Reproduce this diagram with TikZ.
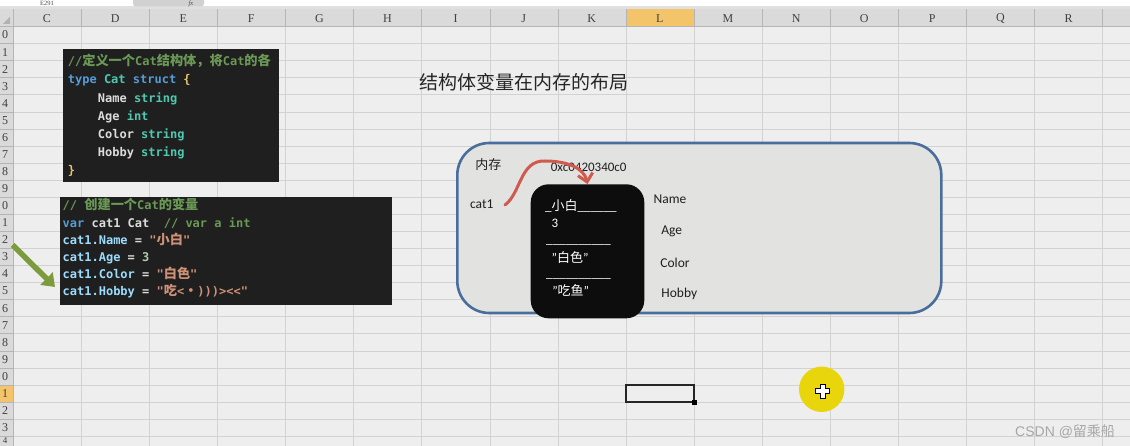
\documentclass[tikz,border=0pt]{standalone}
\usepackage{fontspec}
\setmainfont{Carlito}
\newfontfamily\cjk{Noto Sans CJK SC}
\newfontfamily\codefont{DejaVu Sans Mono}
\newfontfamily\hdrfont{Liberation Serif}
\newfontfamily\wmfont{Liberation Sans}
\usetikzlibrary{arrows.meta}
\definecolor{sheetbg}{HTML}{EEEEEE}
\definecolor{gridc}{HTML}{D2D2D2}
\definecolor{hdrbg}{HTML}{DADADA}
\definecolor{hdrline}{HTML}{B5B5B5}
\definecolor{hilite}{HTML}{F4C46A}
\definecolor{codebg}{HTML}{1F1F1F}
\definecolor{ckw}{HTML}{569CD6}
\definecolor{cty}{HTML}{4EC9B0}
\definecolor{ccm}{HTML}{6A9955}
\definecolor{cfg}{HTML}{DCDCDC}
\definecolor{cvar}{HTML}{9CDCFE}
\definecolor{cstr}{HTML}{CE9178}
\definecolor{cnum}{HTML}{B5CEA8}
\definecolor{cbr}{HTML}{E8C56A}
\definecolor{memfill}{HTML}{E2E2E0}
\definecolor{memline}{HTML}{4A6E9C}
\definecolor{redarrow}{HTML}{CF5B4F}
\definecolor{greenarrow}{HTML}{7C9B3C}
\definecolor{cursory}{HTML}{E9D50C}
\definecolor{wmgray}{HTML}{A6A6A6}
\newcommand\cKw[1]{\textcolor{ckw}{#1}}
\newcommand\cTy[1]{\textcolor{cty}{#1}}
\newcommand\cCm[1]{\textcolor{ccm}{#1}}
\newcommand\cFg[1]{\textcolor{cfg}{#1}}
\newcommand\cVa[1]{\textcolor{cvar}{#1}}
\newcommand\cSt[1]{\textcolor{cstr}{#1}}
\newcommand\cNu[1]{\textcolor{cnum}{#1}}
\newcommand\cBr[1]{\textcolor{cbr}{#1}}
\newcommand\cZh[1]{{\cjk\fontsize{13.2}{13}\selectfont #1}}
\newcommand\zhtxt[1]{{\cjk #1}}
\tikzset{
  codetxt/.style={anchor=base west, inner sep=0pt, font=\codefont\bfseries\fontsize{12}{12}\selectfont},
  codebox/.style={fill=codebg, anchor=north west, inner sep=0pt},
  hdrtxt/.style={inner sep=0pt, text=black!75, font=\hdrfont\fontsize{12}{12}\selectfont},
  memtxt/.style={inner sep=0pt, text=black!88, font=\fontsize{13.5}{14}\selectfont},
  objtxt/.style={inner sep=0pt, text=white, font=\fontsize{13}{14}\selectfont},
}
\begin{document}
\begin{tikzpicture}[x=1pt,y=-1pt]
\useasboundingbox (0,0) rectangle (1130,446);
% sheet
\fill[sheetbg] (0,0) rectangle (1130,446);
\fill[white] (0,0) rectangle (1130,6.5);
\fill[black!12] (0,6.5) rectangle (1130,9);
\fill[black!18, rounded corners=3pt] (133,-6) rectangle (204,6.5);
\node[anchor=base, inner sep=0pt, font=\hdrfont\fontsize{6.5}{6.5}\selectfont, text=black!70] (namebox) at (47,6) {E291};
\node[anchor=base, inner sep=0pt, font=\hdrfont\itshape\fontsize{6.5}{6.5}\selectfont, text=black!70] (fxlabel) at (191,6) {fx};
\draw[black!35] (0,9) -- (1130,9);
% grid
\foreach \k in {0,...,25} \draw[gridc] (12.7,26.4+17.07*\k) -- (1130,26.4+17.07*\k);
\foreach \k in {0,...,16} \draw[gridc] (13+68.1*\k,26.4) -- (13+68.1*\k,446);
% headers
\fill[hdrbg] (0,9.5) rectangle (1130,26.4);
\fill[hdrbg] (0,9.5) rectangle (12.7,446);
\fill[hilite] (625.9,9.5) rectangle (694,26.4);
\fill[hilite] (0,384.9) rectangle (12.7,402);
\fill[black!30] (3,24) -- (10,24) -- (10,17) -- cycle;
\foreach \l [count=\i from 0] in {C,D,E,F,G,H,I,J,K,L,M,N,O,P,Q,R} {
  \draw[hdrline] (13+68.1*\i,9.5) -- (13+68.1*\i,26.4);
  \node[hdrtxt] (col\l) at (47+68.1*\i,18.5) {\l};
}
\draw[hdrline] (1102.6,9.5) -- (1102.6,26.4);
\draw[hdrline] (0,26.4) -- (1130,26.4);
\foreach \k in {0,...,23} {
  \pgfmathtruncatemacro\dg{mod(\k,10)}
  \draw[hdrline] (0,26.4+17.07*\k) -- (12.7,26.4+17.07*\k);
  \node[hdrtxt] (row\k) at (5,35+17.07*\k) {\dg};
}
\draw[hdrline] (0,436.1) -- (12.7,436.1);
\node[hdrtxt, font=\hdrfont\fontsize{9}{9}\selectfont] (row24) at (5,441) {4};
\draw[hdrline] (12.7,9.5) -- (12.7,446);
% code box 1
\node[codebox, minimum width=216.7pt, minimum height=132.7pt] (code1) at (62.3,49) {};
\begin{scope}
\clip (code1.north west) rectangle (code1.south east);
\node[codetxt] (c1l1) at (67.7,65.5) {\cCm{//\cZh{定义一个}Cat\cZh{结构体，将}Cat\cZh{的各}}};
\end{scope}
\node[codetxt] (c1l2) at (67.7,84) {\cKw{type} \cTy{Cat} \cKw{struct} \cBr{\{}};
\node[codetxt] (c1l3) at (97.7,102.5) {\cFg{Name} \cTy{string}};
\node[codetxt] (c1l4) at (97.7,120.5) {\cFg{Age} \cTy{int}};
\node[codetxt] (c1l5) at (97.7,138.8) {\cFg{Color} \cTy{string}};
\node[codetxt] (c1l6) at (97.7,157) {\cFg{Hobby} \cTy{string}};
\node[codetxt] (c1l7) at (67.7,175) {\cBr{\}}};
% code box 2
\node[codebox, minimum width=331.7pt, minimum height=108.3pt] (code2) at (60,196.7) {};
\node[codetxt] (c2l1) at (62.5,210) {\cCm{//\ \cZh{创建一个}Cat\cZh{的变量}}};
\node[codetxt] (c2l2) at (62.5,227.5) {\cKw{var} \cFg{cat1} \cFg{Cat}\ \ \cCm{//\ var a int}};
\node[codetxt] (c2l3) at (62.5,244.8) {\cVa{cat1.Name} \cFg{=} \cSt{"\cZh{小白}"}};
\node[codetxt] (c2l4) at (62.5,261.8) {\cVa{cat1.Age} \cFg{=} \cNu{3}};
\node[codetxt] (c2l5) at (62.5,278.6) {\cVa{cat1.Color} \cFg{=} \cSt{"\cZh{白色}"}};
\node[codetxt] (c2l6) at (62.5,295.5) {\cVa{cat1.Hobby} \cFg{=} \cSt{"\cZh{吃}<\cZh{・})))><<"}};
% green arrow
\coordinate (gs) at (12.7,245);
\coordinate (ge) at (55,287);
\draw[greenarrow, line width=5.5pt, -{Triangle[length=12pt,width=17pt]}] (gs) -- (ge);
% title
\node[inner sep=0pt, text=black!85, font=\cjk\fontsize{19}{20}\selectfont] (title) at (523.5,82) {结构体变量在内存的布局};
% memory box
\node[draw=memline, line width=2.6pt, fill=memfill, rounded corners=32pt, minimum width=484pt, minimum height=170pt, inner sep=0pt] (mem) at (699.3,228) {};
\node[memtxt, font=\cjk\fontsize{13}{14}\selectfont] (memlabel) at (488.3,164.3) {内存};
\node[memtxt, font=\fontsize{13}{14}\selectfont] (addr) at (588.7,167.3) {0xc0420340c0};
\node[memtxt] (cat1) at (481.7,204) {cat1};
% object box
\node[fill=black!95, rounded corners=18pt, minimum width=113.6pt, minimum height=134pt, inner sep=0pt] (obj) at (587.5,251.3) {};
\node[objtxt, anchor=base west] (v1) at (545,210.5) {\_\zhtxt{小白}\_\_\_\_\_\_};
\node[objtxt] (v2) at (555,223.3) {3};
\node[objtxt, anchor=base west] (sep1) at (546,244) {\_\_\_\_\_\_\_\_\_\_};
\node[objtxt] (v3) at (570,257.7) {"\zhtxt{白色}"};
\node[objtxt, anchor=base west] (sep2) at (546,278) {\_\_\_\_\_\_\_\_\_\_};
\node[objtxt] (v4) at (570.7,290) {"\zhtxt{吃鱼}"};
% field labels
\node[memtxt] (fName) at (670,199.3) {Name};
\node[memtxt] (fAge) at (671.7,231.7) {Age};
\node[memtxt] (fColor) at (675,262.7) {Color};
\node[memtxt] (fHobby) at (679.3,294.3) {Hobby};
% red pointer arrow
\coordinate (rs) at (505,205);
\draw[redarrow, line width=3pt, line cap=round, -{Straight Barb[length=8pt,width=15pt]}]
  (rs) .. controls (521,193) and (520,160) .. (545,161) .. controls (567,161) and (584,168) .. (obj.north);
% selected cell
\draw[black!85, line width=2pt] (625.9,384.9) rectangle (694,402);
\fill[black] (691.5,399.5) rectangle (696.5,404.5);
% cursor highlight
\fill[cursory] (821.7,389.3) circle (22.7);
\draw[black, line width=1pt, fill=white, shift={(822.5,391)}]
  (-2.5,-7) -- (2.5,-7) -- (2.5,-2.5) -- (7,-2.5) -- (7,2.5) -- (2.5,2.5) -- (2.5,7) -- (-2.5,7) -- (-2.5,2.5) -- (-7,2.5) -- (-7,-2.5) -- (-2.5,-2.5) -- cycle;
% watermark
\node[anchor=west, inner sep=0pt, text=wmgray, font=\wmfont\fontsize{14}{14}\selectfont] (wm) at (1015,431.7) {CSDN @\zhtxt{留乘船}};
\end{tikzpicture}
\end{document}
